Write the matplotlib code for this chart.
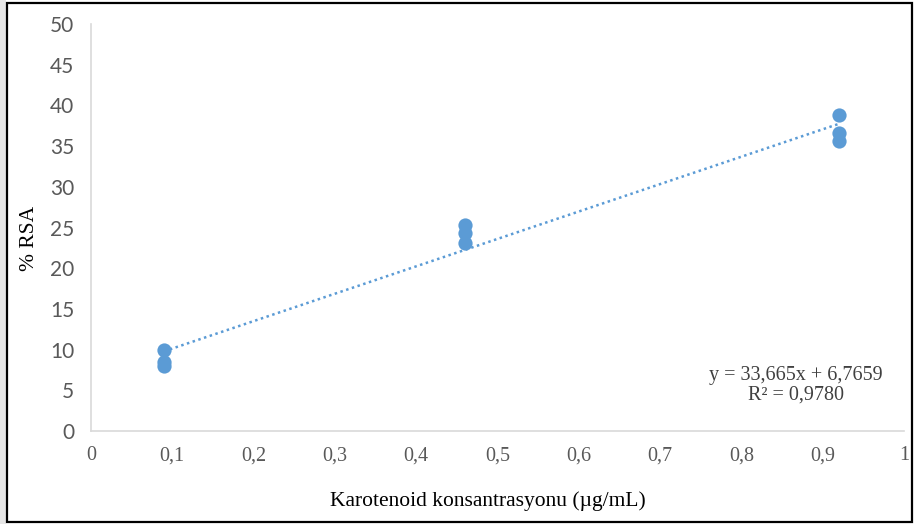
import matplotlib
matplotlib.use("Agg")
import matplotlib.pyplot as plt
from matplotlib.patches import Rectangle
from matplotlib.ticker import FixedLocator
import numpy as np

# Carotenoid concentration (µg/mL) and radical scavenging activity (% RSA)
conc = [0.09, 0.09, 0.09, 0.46, 0.46, 0.46, 0.92, 0.92, 0.92]
rsa = [9.9, 8.5, 8.0, 25.3, 24.3, 23.1, 38.8, 36.6, 35.6]

# Linear trend reported on the chart
slope = 33.665
intercept = 6.7659
r_squared = 0.9780

x_ticks = [0, 0.1, 0.2, 0.3, 0.4, 0.5, 0.6, 0.7, 0.8, 0.9, 1]
x_tick_labels = ["0", "0,1", "0,2", "0,3", "0,4", "0,5", "0,6", "0,7", "0,8", "0,9", "1"]
y_ticks = [0, 5, 10, 15, 20, 25, 30, 35, 40, 45, 50]

blue = "#5B9BD5"
grey_text = "#595959"
axis_grey = "#D9D9D9"

W, H = 915, 524
fig = plt.figure(figsize=(W / 100, H / 100), dpi=100)
ax = fig.add_axes([91 / W, 1 - 431 / H, (904 - 91) / W, (431 - 24) / H])

ax.scatter(conc, rsa, s=105, color=blue, zorder=3, linewidths=0)

xt = np.array([min(conc), max(conc)])
ax.plot(xt, slope * xt + intercept, color=blue, lw=1.8,
        linestyle=(0, (1, 1.4)), zorder=2)

ax.set_xlim(0, 1)
ax.set_ylim(0, 50)
ax.xaxis.set_major_locator(FixedLocator(x_ticks))
ax.set_xticklabels(x_tick_labels, family="Liberation Serif", fontsize=14.5, color=grey_text)
ax.yaxis.set_major_locator(FixedLocator(y_ticks))
ax.set_yticklabels([str(v) for v in y_ticks], family=["Lato", "DejaVu Sans"],
                   fontsize=15, color=grey_text)
ax.tick_params(length=0)
ax.tick_params(axis="y", pad=12)
ax.tick_params(axis="x", pad=11)

for side in ("top", "right"):
    ax.spines[side].set_visible(False)
for side in ("left", "bottom"):
    ax.spines[side].set_color(axis_grey)
    ax.spines[side].set_linewidth(1.2)

eq = f"y = {slope:.3f}x + {intercept:.4f}".replace(".", ",") + "\n" + \
     f"R² = {r_squared:.4f}".replace(".", ",")
ax.text(796 / W, 1 - 385 / H, eq, transform=fig.transFigure, ha="center", va="center",
        family="Liberation Serif", fontsize=14.5, color="#404040", linespacing=1.05)

fig.text(30 / W, 1 - 238 / H, "% RSA", rotation=90, ha="center", va="center",
         family="Liberation Serif", fontsize=15.5, color="black")
fig.text(488 / W, 1 - 501 / H, "Karotenoid konsantrasyonu (µg/mL)", ha="center", va="center",
         family="Liberation Serif", fontsize=15.5, color="black")

# Shadow strip at the left edge and the black frame around the chart
fig.patches.append(Rectangle((0, 0), 6 / W, 1, transform=fig.transFigure,
                             facecolor="#E6E6E6", edgecolor="none", zorder=0))
fig.patches.append(Rectangle((7 / W, 2 / H), (912 - 7) / W, (521 - 2) / H,
                             transform=fig.transFigure, facecolor="none",
                             edgecolor="black", lw=1.6, zorder=5))

fig.savefig("out.png", dpi=100)
